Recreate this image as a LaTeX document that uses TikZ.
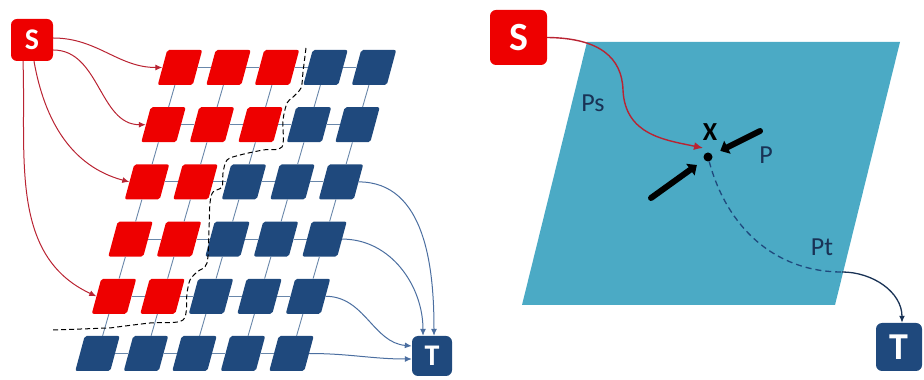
\documentclass[tikz,border=0pt]{standalone}
\usepackage{fontspec}
\setmainfont{Carlito}
\usetikzlibrary{shapes.geometric,arrows.meta}
\definecolor{boxred}{RGB}{238,0,0}
\definecolor{boxblue}{RGB}{31,73,125}
\definecolor{gridc}{RGB}{105,135,170}
\definecolor{arrred}{RGB}{185,35,50}
\definecolor{arrblue}{RGB}{75,110,160}
\definecolor{plane}{RGB}{75,170,197}
\definecolor{navy}{RGB}{25,50,85}
\begin{document}
\begin{tikzpicture}[x=1pt,y=1pt,
 cell/.style={rectangle, xslant=0.27, transform shape, minimum width=35pt, minimum height=35pt, inner sep=0pt, rounded corners=2pt},
 term/.style={rounded corners=6pt, text=white, font=\bfseries\fontsize{30}{30}\selectfont, inner sep=0pt},
 gridln/.style={draw=gridc, line width=0.9pt},
 redarr/.style={draw=arrred, line width=1pt, -{Latex[length=7pt,width=6pt]}},
 bluearr/.style={draw=arrblue, line width=1pt, -{Latex[length=7pt,width=6pt]}},
 lbl/.style={text=navy, font=\fontsize{26}{26}\selectfont, inner sep=0pt},
 fat/.style={line width=6pt, line cap=round, -{Triangle[length=8pt,width=14pt]}, shorten >=9pt}
]
\useasboundingbox (0,0) rectangle (924,380);

% ---------- left diagram ----------
\foreach \r/\n in {0/3,1/3,2/2,3/2,4/2,5/0}{
  \foreach \c in {0,...,4}{
    \ifnum\c<\n\relax \def\fc{boxred}\else\def\fc{boxblue}\fi
    \node[cell, fill=\fc] (b\r\c) at ({180+48.5*\c-16.5*\r},{312.5-57.2*\r}) {};
  }
}
\foreach \r in {0,...,5}{\foreach \c [count=\d] in {0,...,3}{\draw[gridln] (b\r\c) -- (b\r\d);}}
\foreach \r [count=\s] in {0,...,4}{\foreach \c in {0,...,4}{\draw[gridln] (b\r\c) -- (b\s\c);}}

\draw[line width=1pt, dash pattern=on 5pt off 3pt] plot[smooth, tension=0.5] coordinates {(306,332) (303,308) (301,292) (292,282) (287,277) (283,260) (282,233) (263,230) (240,225) (227,220) (223,207) (222,193) (213,188) (210,177) (209,150) (207,117) (197,108) (190,100) (187,87) (183,60) (150,57) (117,53) (107,52) (53,50)};

\node[term, fill=boxred, minimum size=42pt] (S1) at (32,340) {S};
\node[term, fill=boxblue, minimum size=40pt] (T1) at (432,24) {T};

\draw[redarr] ([yshift=2]S1.east) to[out=0,in=180] (b00.west);
\draw[redarr] ([yshift=-10]S1.east) to[out=0,in=180] (b10.west);
\draw[redarr] ([xshift=2]S1.south) to[out=-80,in=165] (b20.west);
\draw[redarr] ([xshift=-9]S1.south) to[out=-88,in=155] (b40.west);

\draw[bluearr] (b24.east) to[out=0,in=90] ([xshift=2]T1.north);
\draw[bluearr] (b34.east) to[out=0,in=90] ([xshift=-9]T1.north);
\draw[bluearr] (b44.east) to[out=0,in=175] ([yshift=10]T1.west);
\draw[bluearr] (b54.east) to[out=0,in=180] ([yshift=-3]T1.west);

% ---------- right diagram ----------
\fill[plane] (587,338) -- (900,338) -- (835,75) -- (522,75) -- cycle;

\node[term, fill=boxred, minimum width=57pt, minimum height=55pt, font=\bfseries\fontsize{40}{40}\selectfont] (S2) at (518.5,342.5) {S};
\node[term, fill=boxblue, minimum width=46pt, minimum height=48pt, font=\bfseries\fontsize{38}{38}\selectfont] (T2) at (899,33) {T};

\node[circle, fill=black, inner sep=0pt, minimum size=9pt] (X) at (708,223) {};
\node[font=\bfseries\fontsize{26}{26}\selectfont, inner sep=0pt] (Xl) at (710,248) {X};
\node[lbl] (P) at (766,225) {P};
\node[lbl] (Ps) at (593,277) {Ps};
\node[lbl] (Pt) at (822,133) {Pt};

\draw[draw=arrred, line width=1.4pt, -{Latex[length=9pt,width=8pt]}] (S2.east) .. controls (600,342) and (622,322) .. (623,290) .. controls (625,245) and (665,240) .. ([shift={(-5,9)}]X.center);

\coordinate (pa) at (760,249);
\coordinate (pb) at (651,182);
\draw[fat] (pa) -- (X);
\draw[fat] (pb) -- (X);

\coordinate (pt) at (842,108);
\draw[draw=boxblue, line width=1.3pt, dash pattern=on 6pt off 4pt] (X) to[out=-75,in=180] (pt);
\draw[draw=navy, line width=1.3pt, -{Latex[length=7pt,width=6pt]}] (pt) to[out=0,in=90] ([xshift=3]T2.north);
\end{tikzpicture}
\end{document}
